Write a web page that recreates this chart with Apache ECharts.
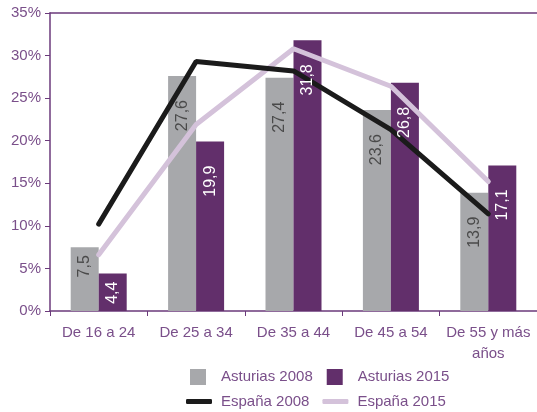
<!DOCTYPE html>
<html>
<head>
<meta charset="utf-8">
<script src="https://cdn.jsdelivr.net/npm/echarts@6/dist/echarts.min.js"></script>
<style>
  html, body { margin: 0; padding: 0; background: #fff; }
  #chart { width: 537px; height: 412px; }
</style>
</head>
<body>
<div id="chart"></div>
<script>
// age groups
let categories = ['De 16 a 24', 'De 25 a 34', 'De 35 a 44', 'De 45 a 54', 'De 55 y más\naños']
let asturias2008 = [7.5, 27.6, 27.4, 23.6, 13.9]
let asturias2015 = [4.4, 19.9, 31.8, 26.8, 17.1]
let espana2008 = [10.2, 29.3, 28.2, 21.3, 11.4]
let espana2015 = [6.6, 21.9, 30.8, 26.4, 15.2]

let purple = '#6b3a7b'
let textPurple = '#7a4f8a'
let font = 'Liberation Sans'

let chart = echarts.init(document.getElementById('chart'))

// value labels go in a see-through copy of the bars (on the 2nd x axis)
// so they sit above the lines, like in the original
function labelBars(name, values, color) {
    return {
        name: name + ' label', type: 'bar', xAxisIndex: 1,
        barWidth: 28, barGap: '0%', z: 10, silent: true,
        itemStyle: { color: 'rgba(0,0,0,0)' },
        data: values.map(v => ({
            value: v,
            label: { distance: v > 10 ? 24 : 8 }
        })),
        label: {
            show: true,
            position: 'insideTop',
            rotate: 90,
            align: 'right',
            verticalAlign: 'middle',
            color: color,
            fontFamily: font,
            fontSize: 16,
            formatter: p => String(p.value).replace('.', ',')
        }
    }
}

let option = {
    animation: false,
    grid: { left: 50, right: 0, top: 13, bottom: 101 },
    legend: [
        {
            data: ['Asturias 2008', 'Asturias 2015'],
            left: 185, top: 364,
            icon: 'rect', itemWidth: 16, itemHeight: 16, itemGap: 14,
            textStyle: { color: textPurple, fontSize: 15, fontFamily: font, padding: [0, 0, 0, 10] }
        },
        {
            data: ['España 2008', 'España 2015'],
            left: 181, top: 389,
            icon: 'roundRect', itemWidth: 26, itemHeight: 5, itemGap: 13,
            textStyle: { color: textPurple, fontSize: 15, fontFamily: font, padding: [0, 0, 0, 4] }
        }
    ],
    xAxis: [
        {
            type: 'category',
            data: categories,
            axisLine: { lineStyle: { color: purple, width: 1.5 } },
            axisTick: { show: true, length: 5, lineStyle: { color: purple } },
            axisLabel: {
                color: textPurple, fontSize: 15, fontFamily: font,
                margin: 11, lineHeight: 21, interval: 0
            }
        },
        {
            type: 'category',
            position: 'top',
            data: categories,
            axisLine: { lineStyle: { color: purple, width: 1.5 } },
            axisTick: { show: false },
            axisLabel: { show: false }
        }
    ],
    yAxis: {
        type: 'value',
        min: 0, max: 35, interval: 5,
        axisLine: { show: true, lineStyle: { color: purple, width: 1.5 } },
        axisTick: { show: true, length: 5, lineStyle: { color: purple } },
        splitLine: { show: false },
        axisLabel: {
            color: textPurple, fontSize: 15, fontFamily: font, margin: 9,
            formatter: '{value}%'
        }
    },
    series: [
        {
            name: 'Asturias 2008', type: 'bar', data: asturias2008,
            barWidth: 28, barGap: '0%',
            itemStyle: { color: '#a7a8ab' }
        },
        {
            name: 'Asturias 2015', type: 'bar', data: asturias2015,
            barWidth: 28,
            itemStyle: { color: '#622f6b' }
        },
        {
            name: 'España 2015', type: 'line', data: espana2015,
            symbol: 'none', z: 3,
            lineStyle: { color: '#d4c2da', width: 5, cap: 'round' },
            itemStyle: { color: '#d4c2da' }
        },
        {
            name: 'España 2008', type: 'line', data: espana2008,
            symbol: 'none', z: 4,
            lineStyle: { color: '#1b1b1b', width: 5, cap: 'round' },
            itemStyle: { color: '#1b1b1b' }
        },
        labelBars('Asturias 2008', asturias2008, '#4a4a4a'),
        labelBars('Asturias 2015', asturias2015, '#ffffff')
    ]
}

chart.setOption(option)
</script>
</body>
</html>
